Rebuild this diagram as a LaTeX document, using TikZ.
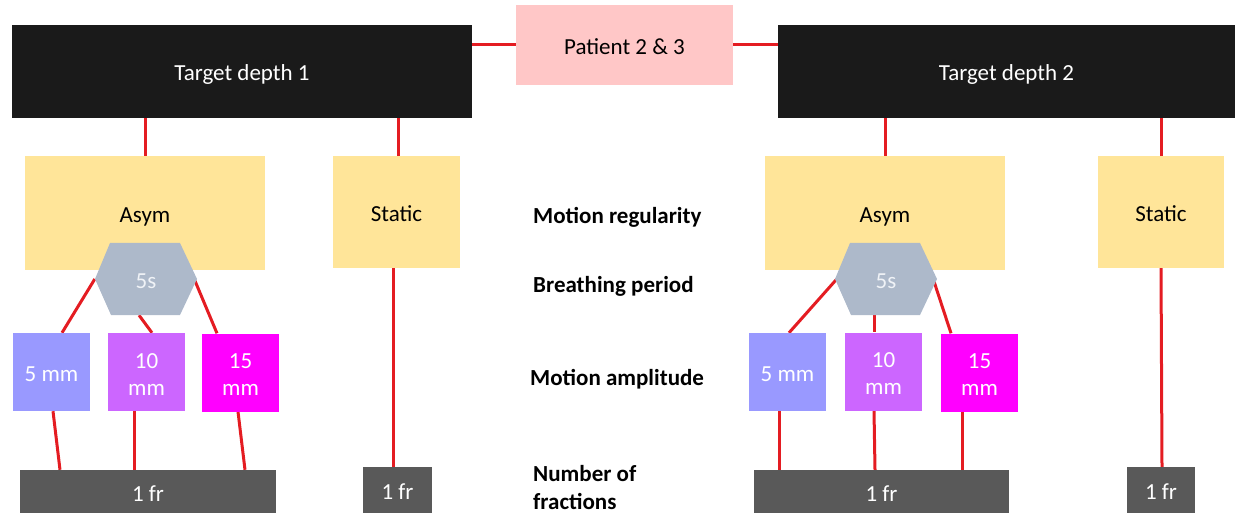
\documentclass[tikz,border=0pt]{standalone}
\usepackage{fontspec}
\setmainfont{Carlito}
\usetikzlibrary{calc}
\pgfdeclarelayer{background}
\pgfsetlayers{background,main}

\definecolor{linkred}{RGB}{228,28,34}
\definecolor{depthfill}{RGB}{26,26,26}
\definecolor{patientfill}{RGB}{255,199,199}
\definecolor{regfill}{RGB}{255,229,153}
\definecolor{periodfill}{RGB}{173,185,202}
\definecolor{ampA}{RGB}{153,153,255}
\definecolor{ampB}{RGB}{204,102,255}
\definecolor{ampC}{RGB}{255,0,255}
\definecolor{fracfill}{RGB}{89,89,89}

\tikzset{
  box/.style={rectangle, inner sep=0pt, text height=20pt, text depth=1pt,
    font=\fontsize{23}{28}\selectfont},
  twoline/.style={text height=, text depth=},
  depthbox/.style={box, fill=depthfill, text=white, minimum width=460, minimum height=93},
  patientbox/.style={box, fill=patientfill, text=black, minimum width=217, minimum height=80},
  regbox/.style={box, fill=regfill, text=black, minimum height=114},
  ampbox/.style={box, text=white, minimum width=77, minimum height=78},
  fracbox/.style={box, fill=fracfill, text=white, minimum height=45},
  periodlabel/.style={box, text={rgb,255:red,240;green,243;blue,247}, minimum width=102, minimum height=72},
  rowlabel/.style={anchor=west, inner sep=0pt, align=left,
    font=\fontsize{23}{28}\selectfont\bfseries},
  link/.style={draw=linkred, line width=3pt},
}

% two stacked lines inside a box, set a little below the box centre
\newcommand{\pair}[2]{\raisebox{-4.5pt}[\height][\depth]{\fontsize{23}{27}\selectfont
  \begin{tabular}{@{}c@{}}#1\\#2\end{tabular}}}

\newcommand{\hexshape}[1]{%
  \fill[periodfill] ($(#1)+(-51,0)$) -- ($(#1)+(-36,-36)$) -- ($(#1)+(34,-36)$)
    -- ($(#1)+(51,0)$) -- ($(#1)+(34,36)$) -- ($(#1)+(-35,36)$) -- cycle;}

\begin{document}
\begin{tikzpicture}[x=1pt, y=-1pt]
\useasboundingbox (0,0) rectangle (1238,518);

% top level
\node[depthbox] (tdL) at (242,71.5) {Target depth 1};
\node[patientbox] (pat) at (624.5,45) {Patient 2 \& 3};
\node[depthbox, minimum width=457] (tdR) at (1006.5,71.5) {Target depth 2};

% motion regularity
\node[regbox, minimum width=240] (asymL) at (145,213) {Asym};
\node[regbox, minimum width=127, minimum height=112] (statL) at (396.5,212) {Static};
\node[regbox, minimum width=240] (asymR) at (885,213) {Asym};
\node[regbox, minimum width=126, minimum height=112] (statR) at (1161,212) {Static};

% breathing period
\hexshape{146,279}
\node[periodlabel] (perL) at (146,279) {5s};
\hexshape{886,279}
\node[periodlabel, minimum width=98] (perR) at (886,279) {5s};

% motion amplitude
\node[ampbox, fill=ampA] (a5L) at (51.5,372) {5 mm};
\node[ampbox, twoline, fill=ampB] (a10L) at (146.5,372) {\pair{10}{mm}};
\node[ampbox, twoline, fill=ampC] (a15L) at (240.5,372.5) {\pair{15}{mm}};
\node[ampbox, fill=ampA] (a5R) at (787.5,372) {5 mm};
\node[ampbox, twoline, fill=ampB] (a10R) at (883.5,371.5) {\pair{10}{mm}};
\node[ampbox, twoline, fill=ampC] (a15R) at (979.5,372.5) {\pair{15}{mm}};

% fractions
\node[fracbox, minimum width=256, minimum height=43] (frL) at (148,491.5) {1 fr};
\node[fracbox, minimum width=69, minimum height=46] (fsL) at (397.5,490) {1 fr};
\node[fracbox, minimum width=255, minimum height=43] (frR) at (881.5,491.5) {1 fr};
\node[fracbox, minimum width=68, minimum height=46] (fsR) at (1161,490) {1 fr};

% row captions
\node[rowlabel] (capReg) at (533,217) {Motion regularity};
\node[rowlabel] (capPer) at (533,286) {Breathing period};
\node[rowlabel] (capAmp) at (530,379) {Motion amplitude};
\node[rowlabel] (capFr) at (533,488) {Number of\\fractions};

% connectors
\begin{pgfonlayer}{background}
\draw[link] (pat.west) -- (pat.west -| tdL.east);
\draw[link] (pat.east) -- (pat.east -| tdR.west);

\draw[link] (asymL.north) -- (asymL.north |- tdL.south);
\draw[link] ([xshift=1.5]statL.north) -- ([xshift=1.5]statL.north |- tdL.south);
\draw[link] (asymR.north) -- (asymR.north |- tdR.south);
\draw[link] (statR.north) -- (statR.north |- tdR.south);

\draw[link] (perL.west) -- ([xshift=10.5]a5L.north);
\draw[link] ([xshift=-7]perL.south) -- ([xshift=5.5]a10L.north);
\draw[link] ([xshift=-3]perL.east) -- ([xshift=-23.5]a15L.north);
\draw[link] (perR.west) -- ([xshift=1.5]a5R.north);
\draw[link] ([xshift=-12]perR.south) -- ([xshift=-9.5]a10R.north);
\draw[link] ([xshift=-2]perR.east) -- ([xshift=-28.5]a15R.north);

\draw[link] ([xshift=1.5]a5L.south) -- ([xshift=-88]frL.north);
\draw[link] ([xshift=-12.5]a10L.south) -- ([xshift=-14]frL.north);
\draw[link] ([xshift=-2.5]a15L.south) -- ([xshift=97]frL.north);
\draw[link] ([xshift=-8.5]a5R.south) -- ([xshift=-102.5]frR.north);
\draw[link] ([xshift=-9.5]a10R.south) -- ([xshift=-6.5]frR.north);
\draw[link] ([xshift=-17.5]a15R.south) -- ([xshift=80.5]frR.north);

\draw[link] ([xshift=-3.5]statL.south) -- ([xshift=-4.5]fsL.north);
\draw[link] (statR.south) -- ([xshift=1]fsR.north);
\end{pgfonlayer}
\end{tikzpicture}
\end{document}
